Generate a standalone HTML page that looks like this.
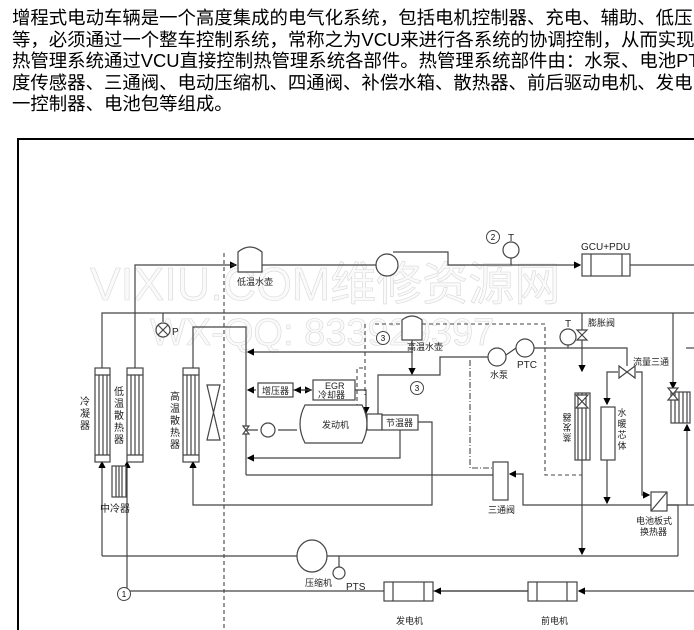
<!DOCTYPE html>
<html><head><meta charset="utf-8"><style>
body{margin:0;width:694px;height:630px;overflow:hidden;background:#fff;position:relative;font-family:"Liberation Sans","Noto Sans CJK SC",sans-serif}
.t{position:absolute;left:12px;top:7px;font-size:18.4px;line-height:21.5px;white-space:nowrap;color:#000;letter-spacing:0px}
svg{position:absolute;left:0;top:0}
</style></head><body>
<div class="t">增程式电动车辆是一个高度集成的电气化系统，包括电机控制器、充电、辅助、低压<br>等，必须通过一个整车控制系统，常称之为VCU来进行各系统的协调控制，从而实现<br>热管理系统通过VCU直接控制热管理系统各部件。热管理系统部件由：水泵、电池PTC<br>度传感器、三通阀、电动压缩机、四通阀、补偿水箱、散热器、前后驱动电机、发电<br>一控制器、电池包等组成。</div>
<svg width="694" height="630" viewBox="0 0 694 630" font-family="Liberation Sans, Noto Sans CJK SC, sans-serif">
<defs><marker id="a" markerWidth="6" markerHeight="6" refX="5" refY="3" orient="auto"><path d="M0,0L6,3L0,6z" fill="#000"/></marker></defs>
<rect x="18" y="139" width="690" height="500" fill="none" stroke="#000" stroke-width="2"/>
<text x="90" y="300" font-size="46" fill="#fafafa" stroke="#d8d8d8" stroke-width="0.6">VIXIU.COM维修资源网</text>
<text x="150" y="345" font-size="38" fill="#fafafa" stroke="#d8d8d8" stroke-width="0.6">WX-QQ: 833929397</text>
<g fill="none" stroke="#444" stroke-width="1.2">
<path d="M135,368V265H236" marker-end="url(#a)"/>
<path d="M262,265H376"/>
<path d="M393,252H448V265H580" marker-end="url(#a)"/>
<path d="M630,265H694"/>
<path d="M102,368V313H694"/>
<path d="M163,313V322"/>
<path d="M193,368V327H246V475"/>
<path d="M413,352H248" marker-end="url(#a)"/>
<path d="M412,340V374" marker-end="url(#a)"/>
<path d="M378,414V375H440V357H488"/>
<path d="M506,355L516,348M534,348H627V366"/>
<path d="M256,390H248" marker-end="url(#a)"/>
<path d="M293,390H311" marker-end="url(#a)"/>
<path d="M312,390H295" marker-end="url(#a)"/>
<path d="M355,390H366V413" marker-end="url(#a)"/>
<path d="M246,430H258M278,430H297"/>
<path d="M400,430V458H248" marker-end="url(#a)"/>
<path d="M246,475H493"/>
<path d="M418,422H432V505H193V462" marker-end="url(#a)"/>
<path d="M694,505H523V474H510" marker-end="url(#a)"/>
<path d="M582,313V371" marker-end="url(#a)"/>
<path d="M582,460V554" marker-end="url(#a)"/>
<path d="M618,372H607V404" marker-end="url(#a)"/>
<path d="M607,460V503" marker-end="url(#a)"/>
<path d="M636,372H642V495H649" marker-end="url(#a)"/>
<path d="M673,313V388" marker-end="url(#a)"/>
<path d="M687,505V425" marker-end="url(#a)"/>
<path d="M686,348H694"/>
<path d="M667,505H678V556"/>
<path d="M102,556V462" marker-end="url(#a)"/>
<path d="M102,556H297M327,556H678"/>
<path d="M339,556V567"/>
<path d="M127,591V462" marker-end="url(#a)"/>
<path d="M127,591H384M433,591H528"/>
<path d="M694,591H579" marker-end="url(#a)"/>
<path d="M528,591H435" marker-end="url(#a)"/>
</g>
<g fill="none" stroke="#444" stroke-width="1.1" stroke-dasharray="4,3">
<path d="M224,253V630"/>
<path d="M224,265H236"/>
<path d="M400,324H373M422,324H545V475H582"/>
<path d="M357,415V368H365"/>
<path d="M365,324V395"/>
</g>
<path d="M470,360V468H493" fill="none" stroke="#444" stroke-width="1.1" stroke-dasharray="6,2,1,2"/>
<g fill="#fff" stroke="#444" stroke-width="1.2">
<path d="M238,272V252Q250,242 262,252V272Z"/>
<path d="M402,340V320Q412,312 422,320V340Z"/>
<circle cx="387" cy="265" r="11"/>
<circle cx="163" cy="330" r="7"/><path d="M158,325L168,335M168,325L158,335"/>
<circle cx="511" cy="250" r="8"/><path d="M511,258V265"/>
<circle cx="568" cy="337" r="8"/><path d="M568,345V348"/>
<circle cx="497" cy="357" r="9"/>
<circle cx="525" cy="348" r="9"/>
<rect x="582" y="254" width="48" height="22"/><path d="M591,254V276M622,254V276"/>
<rect x="95" y="368" width="15" height="94"/><path d="M95,375H110M99,375V455M103,375V455M107,375V455M95,455H110"/>
<rect x="127" y="368" width="16" height="94"/><path d="M127,375H143M131,375V455M135,375V455M139,375V455M127,455H143"/>
<rect x="183" y="368" width="16" height="94"/><path d="M183,375H199M187,375V455M191,375V455M195,375V455M183,455H199"/>
<rect x="112" y="466" width="14" height="31"/><path d="M116,466V497M119,466V497M122,466V497"/>
<path d="M207,385L220,440H207L220,385Z"/>
<rect x="258" y="383" width="35" height="14"/>
<rect x="313" y="380" width="42" height="20"/>
<path d="M305,405H362Q372,424 362,443H305Q295,424 305,405Z"/>
<rect x="367" y="414" width="15" height="16"/>
<rect x="382" y="415" width="36" height="15"/>
<circle cx="268" cy="430" r="7"/>
<rect x="493" y="462" width="15" height="38"/>
<rect x="575" y="393" width="15" height="67"/><path d="M578,393V460M582,393V460M586,393V460"/>
<rect x="601" y="407" width="14" height="53"/>
<rect x="651" y="492" width="16" height="19"/><path d="M651,511L667,492"/>
<rect x="671" y="392" width="19" height="31"/><path d="M675,392V423M679,392V423M683,392V423M687,392V423"/>
<ellipse cx="312" cy="556" rx="15" ry="16"/>
<circle cx="339" cy="573" r="6"/>
<rect x="384" y="582" width="49" height="19"/><path d="M393,582V601M424,582V601"/>
<rect x="528" y="582" width="49" height="19"/><path d="M537,582V601M567,582V601"/>
<path d="M577,330L587,340H577L587,330Z"/>
<path d="M576,395L588,408H576L588,395Z"/>
<path d="M619,366L627,372L619,378ZM635,366L627,372L635,378Z"/>
<path d="M668,388L678,400H668L678,388Z"/>
<path d="M243,426L249,434H243L249,426Z"/>
</g>
<g fill="#fff" stroke="#444"><circle cx="493" cy="237" r="6.5"/><circle cx="383" cy="338" r="6.5"/><circle cx="417" cy="388" r="6.5"/><circle cx="124" cy="594" r="6.5"/></g>
<g font-size="8" text-anchor="middle" fill="#000"><text x="493" y="240">2</text><text x="383" y="341">3</text><text x="417" y="391">3</text><text x="124" y="597">1</text></g>
<g font-size="9" fill="#222">
<text x="237" y="285">低温水壶</text>
<text x="172" y="335" font-size="10">P</text>
<text x="508" y="241" font-size="10">T</text>
<text x="565" y="327" font-size="10">T</text>
<text x="581" y="250" font-size="10">GCU+PDU</text>
<text x="407" y="350">高温水壶</text>
<text x="262" y="394">增压器</text>
<text x="325" y="389">EGR</text><text x="318" y="398">冷却器</text>
<text x="322" y="428">发动机</text>
<text x="386" y="426">节温器</text>
<text x="490" y="378">水泵</text>
<text x="517" y="368" font-size="10">PTC</text>
<text x="588" y="326">膨胀阀</text>
<text x="633" y="365">流量三通</text>
<text x="488" y="513">三通阀</text>
<text x="636" y="524">电池板式</text><text x="640" y="535">换热器</text>
<text x="100" y="512" font-size="10">中冷器</text>
<text x="305" y="586">压缩机</text>
<text x="346" y="590" font-size="10">PTS</text>
<text x="396" y="624">发电机</text>
<text x="541" y="624">前电机</text>
</g>
<g font-size="10" fill="#222" text-anchor="middle">
<text x="85" y="405">冷</text><text x="85" y="417">凝</text><text x="85" y="429">器</text>
<text x="119" y="395">低</text><text x="119" y="407">温</text><text x="119" y="419">散</text><text x="119" y="431">热</text><text x="119" y="443">器</text>
<text x="175" y="400">高</text><text x="175" y="412">温</text><text x="175" y="424">散</text><text x="175" y="436">热</text><text x="175" y="448">器</text>
</g>
<g font-size="9" fill="#222" text-anchor="middle">
<text x="567" y="416" transform="rotate(180 567 425)">蒸</text><text x="567" y="426" transform="rotate(180 567 425)">发</text><text x="567" y="436" transform="rotate(180 567 425)">器</text>
<text x="622" y="416">水</text><text x="622" y="427">暖</text><text x="622" y="438">芯</text><text x="622" y="449">体</text>
</g>
</svg>
</body></html>
